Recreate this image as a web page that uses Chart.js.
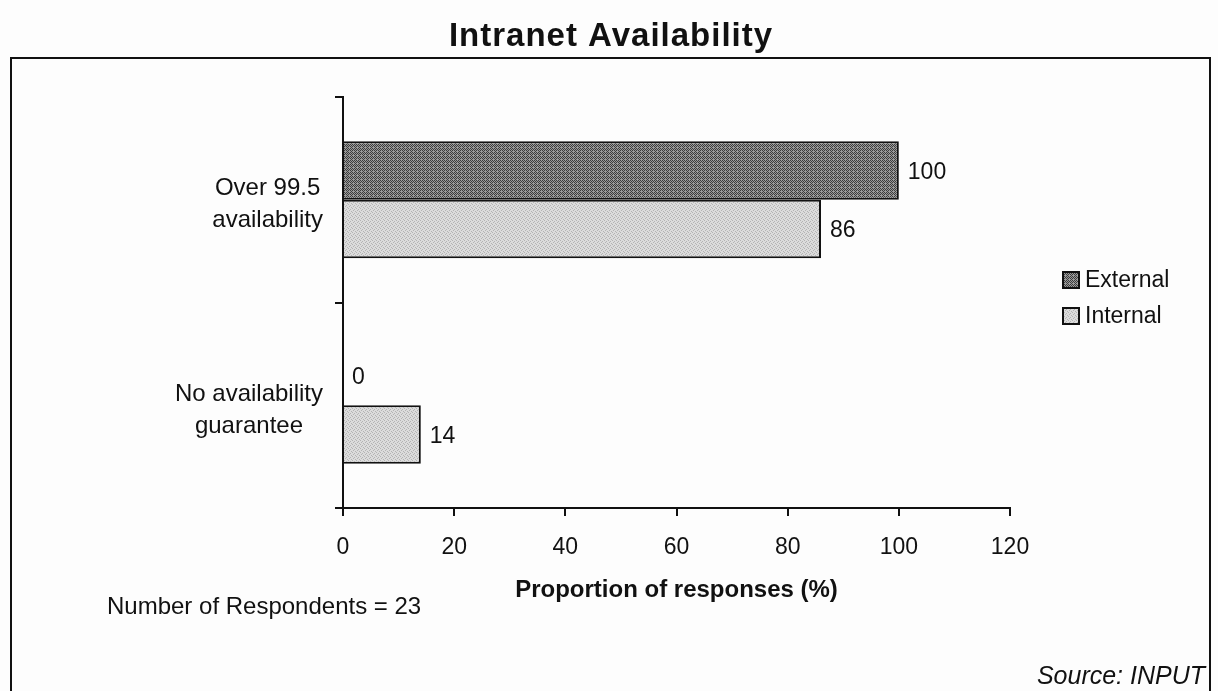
<!DOCTYPE html>
<html>
<head>
<meta charset="utf-8">
<title>Intranet Availability</title>
<script src="https://cdn.jsdelivr.net/npm/chart.js@4/dist/chart.umd.min.js"></script>
<style>
  html, body { margin: 0; padding: 0; background: #fdfdfd; }
  #wrap { width: 1218px; height: 691px; position: relative; }
</style>
</head>
<body>
<div id="wrap"><canvas id="chart" width="1218" height="691"></canvas></div>
<script>
// Survey answers: share of respondents per availability level
const categories = [["Over 99.5", "availability"], ["No availability", "guarantee"]];
const seriesNames = ["External", "Internal"];
const externalValues = [100, 0];
const internalValues = [86, 14];
const xTicks = [0, 20, 40, 60, 80, 100, 120];

const chartTitle = "Intranet Availability";
const axisTitle = "Proportion of responses (%)";
const respondentsNote = "Number of Respondents = 23";
const sourceNote = "Source: INPUT";

const FONT = "'Liberation Sans', Arial, Helvetica, sans-serif";
const INK = '#111';

// Dithered fills in the style of an old laser-printed chart
function makePattern(colA, colB, dots) {
  const c = document.createElement('canvas');
  c.width = 4; c.height = 4;
  const g = c.getContext('2d');
  g.fillStyle = colA; g.fillRect(0, 0, 4, 4);
  g.fillStyle = colB;
  dots.forEach(([x, y]) => g.fillRect(x, y, 1, 1));
  return g.createPattern(c, 'repeat');
}
const ctx = document.getElementById('chart').getContext('2d');
const darkFill = makePattern('#9a9a9a', '#3c3c3c', [[0,0],[2,0],[1,1],[3,1],[0,2],[2,2],[3,3]]);
const lightFill = makePattern('#dcdcdc', '#b4b4b4', [[0,0],[2,1],[1,2],[3,3]]);
const fills = [darkFill, lightFill];

const frame = {
  id: 'frame',
  beforeDraw(chart) {
    const c = chart.ctx;
    c.save();
    c.fillStyle = '#fdfdfd';
    c.fillRect(0, 0, chart.width, chart.height);
    c.strokeStyle = INK;
    c.lineWidth = 2;
    c.beginPath();
    c.moveTo(11, 700);
    c.lineTo(11, 58);
    c.lineTo(1210, 58);
    c.lineTo(1210, 700);
    c.stroke();
    c.restore();
  },
  afterDraw(chart) {
    const c = chart.ctx;
    c.save();
    c.fillStyle = INK;
    c.textBaseline = 'middle';

    // title
    c.font = "bold 33px " + FONT;
    c.letterSpacing = '1px';
    c.textAlign = 'center';
    c.fillText(chartTitle, 611, 37);
    c.letterSpacing = '0px';

    // category labels: each block right-aligned to the axis, lines centred within it
    const yScale = chart.scales.y;
    c.font = "24px " + FONT;
    c.textAlign = 'center';
    chart.data.labels.forEach((lines, i) => {
      const yc = yScale.getPixelForTick(i);
      const w = Math.max(...lines.map(t => c.measureText(t).width));
      const cx = yScale.right - 20 - w / 2;
      const lh = 32;
      const y0 = yc + 5 - (lines.length - 1) * lh / 2;
      lines.forEach((t, k) => c.fillText(t, cx, y0 + k * lh));
    });

    // notes
    c.textAlign = 'left';
    c.font = "24px " + FONT;
    c.fillText(respondentsNote, 107, 607);
    c.font = "italic 25px " + FONT;
    c.textAlign = 'right';
    c.fillText(sourceNote, 1205, 677);

    // value labels at the end of each bar
    c.font = "23px " + FONT;
    c.textAlign = 'left';
    chart.data.datasets.forEach((ds, i) => {
      const meta = chart.getDatasetMeta(i);
      meta.data.forEach((el, j) => {
        c.fillText(String(ds.data[j]), el.x + 9, el.y + 2);
      });
    });

    // legend
    chart.data.datasets.forEach((ds, i) => {
      const y = 280 + i * 36;
      c.fillStyle = fills[i];
      c.fillRect(1063, y - 8, 16, 16);
      c.strokeStyle = INK;
      c.lineWidth = 2;
      c.strokeRect(1063, y - 8, 16, 16);
      c.fillStyle = INK;
      c.fillText(ds.label, 1085, y + 1);
    });
    c.restore();
  }
};

new Chart(ctx, {
  type: 'bar',
  data: {
    labels: categories,
    datasets: [
      { label: seriesNames[0], data: externalValues, backgroundColor: darkFill,
        borderColor: INK, borderWidth: 2, borderSkipped: 'start' },
      { label: seriesNames[1], data: internalValues, backgroundColor: lightFill,
        borderColor: INK, borderWidth: 2, borderSkipped: 'start' }
    ]
  },
  options: {
    indexAxis: 'y',
    responsive: false,
    animation: false,
    devicePixelRatio: 1,
    categoryPercentage: 0.57,
    barPercentage: 1.0,
    layout: { padding: { left: 143, top: 97, right: 208, bottom: 83 } },
    plugins: {
      legend: { display: false },
      title: { display: false },
      tooltip: { enabled: false }
    },
    scales: {
      x: {
        type: 'linear',
        min: xTicks[0],
        max: xTicks[xTicks.length - 1],
        afterBuildTicks(scale) { scale.ticks = xTicks.map(v => ({ value: v })); },
        afterFit(scale) { scale.height = 100; },
        grid: { drawOnChartArea: false, tickLength: 8, color: INK, lineWidth: 2 },
        border: { color: INK, width: 2 },
        ticks: { color: INK, font: { family: FONT, size: 23 }, padding: 18, maxRotation: 0 },
        title: { display: true, text: axisTitle, color: INK,
                 font: { family: FONT, size: 24, weight: 'bold' }, padding: { top: 0, bottom: 3 } }
      },
      y: {
        afterFit(scale) { scale.width = 200; },
        grid: { drawOnChartArea: false, offset: true, tickLength: 8, color: INK, lineWidth: 2 },
        border: { color: INK, width: 2 },
        ticks: { display: false }
      }
    }
  },
  plugins: [frame]
});
</script>
</body>
</html>
